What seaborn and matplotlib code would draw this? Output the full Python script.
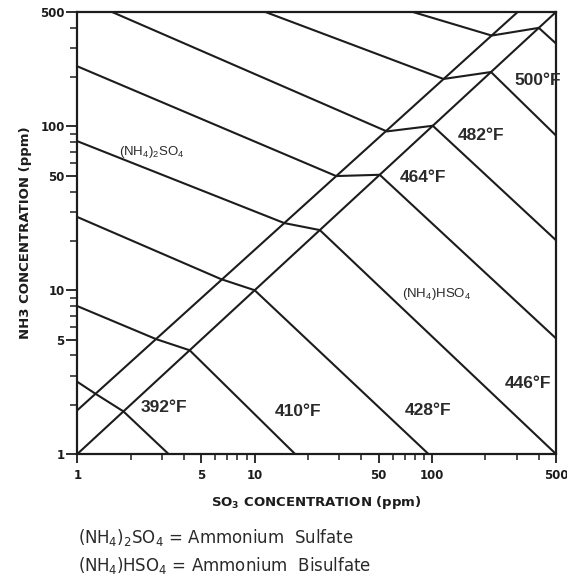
import matplotlib
matplotlib.use("Agg")
import matplotlib.pyplot as plt
from matplotlib.ticker import LogLocator, NullFormatter, FixedLocator, FixedFormatter
import numpy as np
import pandas as pd
import seaborn as sns

# ---------------- data ----------------
# boundary lines between the two salt regions
upper_so3 = [1, 304]
upper_nh3 = [1.85, 500]
lower_so3 = [1, 500]
lower_nh3 = [1, 500]

# isotherms (SO3 ppm, NH3 ppm)
t392_so3 = [1, 1.26, 1.82, 3.27]
t392_nh3 = [2.76, 2.34, 1.82, 1]
t410_so3 = [1, 2.78, 4.3, 16.9]
t410_nh3 = [8.0, 5.03, 4.3, 1]
t428_so3 = [1, 6.45, 10, 95.5]
t428_nh3 = [28.0, 11.7, 10, 1]
t446_so3 = [1, 14.7, 23.3, 500]
t446_nh3 = [81.3, 25.7, 23.3, 1]
t464_so3 = [1, 28.8, 50.7, 500]
t464_nh3 = [233, 49.8, 50.7, 5.08]
t482_so3 = [1.57, 55.6, 101, 500]
t482_nh3 = [500, 93.3, 101, 20.2]
t500_so3 = [11.5, 116, 215, 500]
t500_nh3 = [500, 195, 215, 88]
t518_so3 = [78, 217, 400, 500]
t518_nh3 = [500, 359, 400, 321]

temp_labels = ["392°F", "410°F", "428°F", "446°F", "464°F", "482°F", "500°F"]
temp_label_so3 = [3.09, 17.6, 94.4, 347, 88.4, 189, 395]
temp_label_nh3 = [1.93, 1.83, 1.85, 2.70, 49.1, 88.2, 190.7]

x_ticks = [1, 5, 10, 50, 100, 500]
x_tick_labels = ["1", "5", "10", "50", "100", "500"]
y_ticks = [1, 5, 10, 50, 100, 500]
y_tick_labels = ["1", "5", "10", "50", "100", "500"]

# ---------------- table ----------------
curves = {
    "upper": (upper_so3, upper_nh3),
    "lower": (lower_so3, lower_nh3),
    "392": (t392_so3, t392_nh3),
    "410": (t410_so3, t410_nh3),
    "428": (t428_so3, t428_nh3),
    "446": (t446_so3, t446_nh3),
    "464": (t464_so3, t464_nh3),
    "482": (t482_so3, t482_nh3),
    "500": (t500_so3, t500_nh3),
    "518": (t518_so3, t518_nh3),
}
rows = []
for name, (xs, ys) in curves.items():
    for i, (xv, yv) in enumerate(zip(xs, ys)):
        rows.append({"curve": name, "order": i, "so3": xv, "nh3": yv})
df = pd.DataFrame(rows)

# ---------------- style ----------------
sns.set_theme(style="ticks")
plt.rcParams["font.family"] = ["Liberation Sans", "DejaVu Sans"]
plt.rcParams["mathtext.default"] = "regular"

W, H = 567, 576
fig = plt.figure(figsize=(W / 100, H / 100), dpi=100)
fig.patch.set_facecolor("white")
ax = fig.add_axes([77.3 / W, (H - 454) / H, (556 - 77.3) / W, (454 - 12) / H])
ax.set_facecolor("white")

ax.set_xscale("log")
ax.set_yscale("log")

sns.lineplot(data=df, x="so3", y="nh3", units="curve", estimator=None,
             sort=False, color="#1c1c1c", linewidth=1.5, ax=ax, legend=False)

ax.set_xlim(1, 500)
ax.set_ylim(1, 500)

for s in ax.spines.values():
    s.set_visible(True)
    s.set_color("#1c1c1c")
    s.set_linewidth(1.6)

ax.xaxis.set_major_locator(FixedLocator(x_ticks))
ax.xaxis.set_major_formatter(FixedFormatter(x_tick_labels))
ax.yaxis.set_major_locator(FixedLocator(y_ticks))
ax.yaxis.set_major_formatter(FixedFormatter(y_tick_labels))
ax.xaxis.set_minor_locator(LogLocator(base=10, subs=np.arange(2, 10)))
ax.yaxis.set_minor_locator(LogLocator(base=10, subs=np.arange(2, 10)))
ax.xaxis.set_minor_formatter(NullFormatter())
ax.yaxis.set_minor_formatter(NullFormatter())

ax.tick_params(axis="x", which="major", direction="out", length=6.5, width=1.3,
               color="#1c1c1c", pad=4)
ax.tick_params(axis="x", which="minor", direction="out", length=4.5, width=1.1,
               color="#1c1c1c")
ax.tick_params(axis="y", which="major", direction="out", length=8, width=1.3,
               color="#1c1c1c", pad=1)
ax.tick_params(axis="y", which="minor", direction="out", length=5, width=1.1,
               color="#1c1c1c")
for lab in ax.get_xticklabels() + ax.get_yticklabels():
    lab.set_fontfamily(["DejaVu Sans"])
    lab.set_fontweight("bold")
    lab.set_fontsize(8.5)
    lab.set_color("#1c1c1c")

ax.set_xlabel("SO$_3$ CONCENTRATION (ppm)", family=["DejaVu Sans"],
              fontweight="bold", fontsize=9.5, color="#1c1c1c", labelpad=9)
ax.set_ylabel("NH3 CONCENTRATION (ppm)", family=["DejaVu Sans"],
              fontweight="bold", fontsize=9.5, color="#1c1c1c", labelpad=6)

for txt, xv, yv in zip(temp_labels, temp_label_so3, temp_label_nh3):
    ax.text(xv, yv, txt, ha="center", va="center", fontsize=12.5,
            fontweight="bold", color="#2a2a2a")

ax.text(2.63, 69.7, "(NH$_4$)$_2$SO$_4$", ha="center", va="center",
        fontsize=9.5, color="#2a2a2a")
ax.text(106, 9.55, "(NH$_4$)HSO$_4$", ha="center", va="center",
        fontsize=9.5, color="#2a2a2a")

fig.text(78 / W, 1 - 538 / H, "(NH$_4$)$_2$SO$_4$ = Ammonium  Sulfate",
         ha="left", va="center", fontsize=12, family=["DejaVu Sans"],
         color="#2a2a2a")
fig.text(78 / W, 1 - 565 / H, "(NH$_4$)HSO$_4$ = Ammonium  Bisulfate",
         ha="left", va="center", fontsize=12, family=["DejaVu Sans"],
         color="#2a2a2a")

fig.savefig("out.png", dpi=100, facecolor="white")
